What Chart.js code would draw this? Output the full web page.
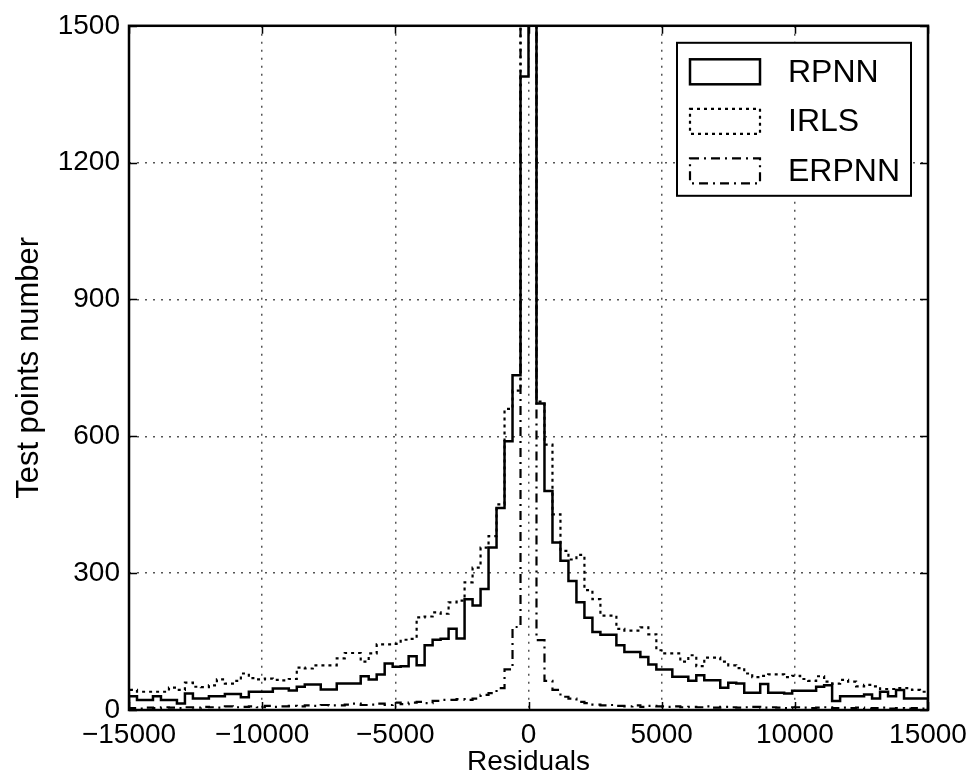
<!DOCTYPE html>
<html>
<head>
<meta charset="utf-8">
<script src="https://cdn.jsdelivr.net/npm/chart.js@4.4.1/dist/chart.umd.min.js"></script>
<style>
  html, body { margin: 0; padding: 0; background: #fff; }
  #wrap { width: 977px; height: 779px; }
</style>
</head>
<body>
<div id="wrap"><canvas id="histChart" width="977" height="779"></canvas></div>
<script>
// Residual histograms, 100 bins of width 300 from -15000 to 15000
const binStart = -15000;
const binWidth = 300;

const rpnnCounts = [
  30, 22, 22, 30, 22, 22, 14, 36, 25, 25,
  30, 30, 35, 35, 28, 40, 40, 40, 47, 47,
  43, 51, 56, 56, 45, 45, 58, 58, 58, 74,
  67, 78, 102, 95, 96, 118, 98, 142, 154, 156,
  178, 157, 243, 229, 265, 356, 443, 589, 734, 1389,
  1600, 672, 480, 367, 327, 283, 236, 202, 171, 165,
  165, 142, 127, 127, 116, 100, 89, 89, 73, 73,
  64, 76, 65, 65, 49, 60, 58, 38, 38, 57,
  38, 38, 36, 42, 42, 42, 51, 54, 20, 30,
  30, 30, 34, 25, 40, 30, 44, 25, 25, 25
];

const irlsCounts = [
  44, 40, 40, 40, 40, 49, 44, 60, 51, 50,
  54, 67, 58, 64, 80, 70, 67, 69, 66, 65,
  68, 93, 91, 98, 98, 98, 113, 125, 125, 106,
  124, 144, 144, 145, 154, 156, 203, 205, 214, 211,
  236, 240, 280, 312, 356, 381, 451, 660, 700, 1700,
  1700, 676, 582, 429, 349, 330, 340, 263, 243, 207,
  207, 178, 174, 174, 181, 166, 131, 124, 124, 106,
  120, 96, 115, 115, 106, 98, 92, 80, 72, 75,
  78, 78, 72, 75, 68, 64, 74, 62, 58, 66,
  62, 52, 55, 52, 46, 46, 48, 48, 44, 40
];

const erpnnCounts = [
  4, 3, 5, 4, 6, 5, 4, 6, 5, 7,
  6, 5, 8, 6, 7, 8, 6, 9, 7, 8,
  9, 8, 10, 9, 11, 10, 10, 12, 14, 11,
  12, 14, 11, 16, 13, 16, 18, 15, 20, 22,
  22, 24, 22, 25, 33, 37, 48, 89, 182, 2500,
  2400, 153, 64, 44, 29, 25, 18, 15, 12, 10,
  11, 9, 8, 10, 7, 9, 8, 7, 8, 6,
  7, 6, 8, 5, 7, 6, 5, 6, 7, 5,
  6, 5, 4, 6, 5, 4, 5, 6, 4, 5,
  4, 5, 3, 4, 5, 3, 4, 3, 4, 3
];

const seriesNames = ['RPNN', 'IRLS', 'ERPNN'];
const xTicks = [-15000, -10000, -5000, 0, 5000, 10000, 15000];
const yTicks = [0, 300, 600, 900, 1200, 1500];

// outline of a step histogram: up at the first edge, down at the last one
function stepOutline(counts) {
  const pts = [{ x: binStart, y: 0 }];
  counts.forEach((c, i) => pts.push({ x: binStart + i * binWidth, y: c }));
  const end = binStart + counts.length * binWidth;
  pts.push({ x: end, y: counts[counts.length - 1] });
  pts.push({ x: end, y: 0 });
  return pts;
}

const minus = v => v < 0 ? '\u2212' + Math.abs(v) : String(v);
const FONT = '"Liberation Sans", Arial, sans-serif';

// frame + inward tick marks (old matplotlib look)
const frameTicks = {
  id: 'frameTicks',
  afterDatasetsDraw(chart) {
    const { ctx, chartArea: a, scales } = chart;
    ctx.save();
    ctx.strokeStyle = '#000';
    ctx.lineWidth = 1.5;
    ctx.beginPath();
    xTicks.forEach(v => {
      const px = Math.round(scales.x.getPixelForValue(v)) + 0.5;
      ctx.moveTo(px, a.bottom); ctx.lineTo(px, a.bottom - 8);
      ctx.moveTo(px, a.top); ctx.lineTo(px, a.top + 8);
    });
    yTicks.forEach(v => {
      const py = Math.round(scales.y.getPixelForValue(v)) + 0.5;
      ctx.moveTo(a.left, py); ctx.lineTo(a.left + 8, py);
      ctx.moveTo(a.right, py); ctx.lineTo(a.right - 8, py);
    });
    ctx.stroke();
    ctx.lineWidth = 2.5;
    ctx.strokeRect(a.left, a.top, a.right - a.left, a.bottom - a.top);
    ctx.restore();
  }
};

// legend box inside the top-right corner with patch swatches
const boxLegend = {
  id: 'boxLegend',
  afterDraw(chart) {
    const { ctx, chartArea: a } = chart;
    const w = 234, h = 153;
    const x0 = a.right - 17 - w, y0 = a.top + 17;
    ctx.save();
    ctx.fillStyle = '#fff';
    ctx.fillRect(x0, y0, w, h);
    ctx.strokeStyle = '#000';
    ctx.lineWidth = 2;
    ctx.setLineDash([]);
    ctx.strokeRect(x0, y0, w, h);
    ctx.font = '32px ' + FONT;
    ctx.textBaseline = 'middle';
    ctx.fillStyle = '#000';
    chart.data.datasets.forEach((ds, i) => {
      const cy = y0 + 29 + i * 49.5;
      ctx.lineWidth = ds.borderWidth;
      ctx.setLineDash(ds.borderDash || []);
      ctx.strokeRect(x0 + 13, cy - 12.5, 70, 25);
      ctx.setLineDash([]);
      ctx.fillText(ds.label, x0 + 111, cy + 1);
    });
    ctx.restore();
  }
};

new Chart(document.getElementById('histChart'), {
  type: 'line',
  data: {
    datasets: [
      { label: seriesNames[0], data: stepOutline(rpnnCounts), borderColor: '#000', borderWidth: 2.5, borderDash: [] },
      { label: seriesNames[1], data: stepOutline(irlsCounts), borderColor: '#000', borderWidth: 2.2, borderDash: [3, 4] },
      { label: seriesNames[2], data: stepOutline(erpnnCounts), borderColor: '#000', borderWidth: 2.2, borderDash: [9, 5, 2, 5] }
    ]
  },
  options: {
    responsive: false,
    animation: false,
    elements: {
      line: { stepped: 'before', tension: 0, fill: false },
      point: { radius: 0, hoverRadius: 0 }
    },
    layout: { padding: { top: 22, right: 49, left: 0, bottom: 0 } },
    plugins: { legend: { display: false }, tooltip: { enabled: false } },
    scales: {
      x: {
        type: 'linear',
        min: -15000,
        max: 15000,
        afterFit: s => { s.height = 69; },
        afterBuildTicks: s => { s.ticks = xTicks.map(v => ({ value: v })); },
        grid: { color: '#555', lineWidth: 1.5, drawTicks: false },
        border: { display: false, dash: [2, 6] },
        ticks: {
          color: '#000',
          padding: 8,
          maxRotation: 0,
          font: { family: FONT, size: 28 },
          callback: v => minus(v)
        },
        title: {
          display: true,
          text: 'Residuals',
          color: '#000',
          padding: 0,
          font: { family: FONT, size: 28 }
        }
      },
      y: {
        min: 0,
        max: 1500,
        afterFit: s => { s.width = 129; },
        afterBuildTicks: s => { s.ticks = yTicks.map(v => ({ value: v })); },
        grid: { color: '#555', lineWidth: 1.5, drawTicks: false },
        border: { display: false, dash: [2, 6] },
        ticks: {
          color: '#000',
          padding: 9,
          font: { family: FONT, size: 28 },
          callback: v => String(v)
        },
        title: {
          display: true,
          text: 'Test points number',
          color: '#000',
          padding: 11,
          font: { family: FONT, size: 31 }
        }
      }
    }
  },
  plugins: [frameTicks, boxLegend]
});
</script>
</body>
</html>
